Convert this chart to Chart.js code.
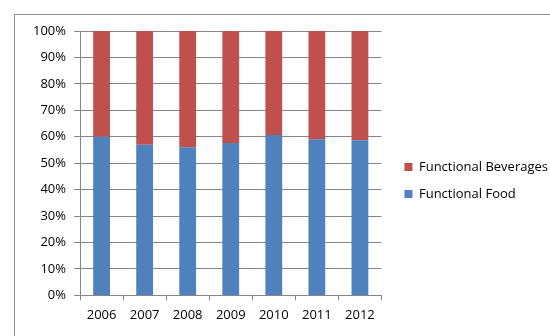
<!DOCTYPE html>
<html>
<head>
<meta charset="utf-8">
<script src="https://cdn.jsdelivr.net/npm/chart.js@4/dist/chart.umd.min.js"></script>
<style>
  html, body { margin: 0; padding: 0; width: 550px; height: 336px; overflow: hidden; background: #fff; }
  #frame { position: absolute; left: 14px; top: 14px; width: 600px; height: 400px; border: 1px solid #8e8e8e; box-sizing: border-box; }
  #wrap { position: absolute; left: 0; top: 0; width: 558px; height: 336px; }
</style>
</head>
<body>
<div id="frame"></div>
<div id="wrap"><canvas id="c" width="558" height="336"></canvas></div>
<script>
const categories = ["2006", "2007", "2008", "2009", "2010", "2011", "2012"];
const functionalFood = [60.0, 57.0, 56.0, 57.6, 60.7, 59.1, 58.7];
const functionalBeverages = [40.0, 43.0, 44.0, 42.4, 39.3, 40.9, 41.3];
const yTicks = [0, 10, 20, 30, 40, 50, 60, 70, 80, 90, 100];

const FONT = "'Open Sans', sans-serif";
const GRID = "#868686";

new Chart(document.getElementById("c"), {
  type: "bar",
  data: {
    labels: categories,
    datasets: [
      { label: "Functional Food", data: functionalFood, backgroundColor: "#4F81BD", borderWidth: 0, categoryPercentage: 1, barPercentage: 0.39 },
      { label: "Functional Beverages", data: functionalBeverages, backgroundColor: "#C0504D", borderWidth: 0, categoryPercentage: 1, barPercentage: 0.39 }
    ]
  },
  options: {
    responsive: false,
    animation: false,
    devicePixelRatio: 1,
    layout: { padding: { left: 25, top: 31, right: 0, bottom: 6 } },
    plugins: {
      legend: {
        position: "right",
        reverse: true,
        maxWidth: 260,
        labels: {
          boxWidth: 8, boxHeight: 8, padding: 14,
          color: "#000",
          font: { family: FONT, size: 13 }
        }
      },
      tooltip: { enabled: false }
    },
    scales: {
      x: {
        stacked: true,
        grid: { drawOnChartArea: false, drawTicks: true, tickLength: 5, color: GRID, offset: true },
        border: { color: GRID },
        ticks: { color: "#000", padding: 7, font: { family: FONT, size: 13 } }
      },
      y: {
        stacked: true,
        min: 0, max: 100,
        afterBuildTicks: (s) => { s.ticks = yTicks.map(v => ({ value: v })); },
        grid: { color: GRID, tickLength: 6 },
        border: { color: GRID },
        ticks: { color: "#000", padding: 8, font: { family: FONT, size: 13 }, callback: (v) => v + "%" }
      },
      gap: {
        type: "linear",
        position: "right",
        display: true,
        grid: { display: false },
        border: { display: false },
        ticks: { display: false },
        afterFit: (s) => { s.width = 9; }
      }
    }
  }
});
</script>
</body>
</html>
